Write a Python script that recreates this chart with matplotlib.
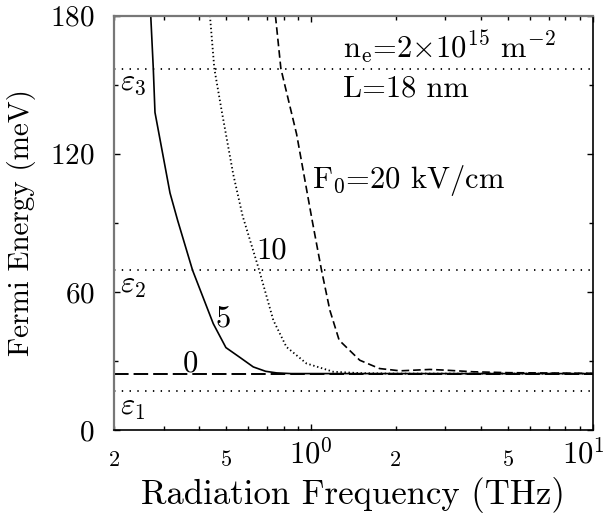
import matplotlib
matplotlib.use("Agg")
import matplotlib.pyplot as plt
import matplotlib.transforms as mtrans
from matplotlib.ticker import FixedLocator, FixedFormatter

plt.rcParams["font.family"] = "cmr10"
plt.rcParams["mathtext.fontset"] = "cm"
plt.rcParams["axes.formatter.use_mathtext"] = True
plt.rcParams["lines.scale_dashes"] = False

# Subband levels (meV)
eps_levels = [17.0, 69.4, 157.0]
eps_labels = [r"$\varepsilon_1$", r"$\varepsilon_2$", r"$\varepsilon_3$"]

# F0 = 0 : flat Fermi level
f0_level = 24.5

# F0 = 5 kV/cm
freq_5 = [0.270, 0.2757, 0.2795, 0.316, 0.3365, 0.380, 0.450, 0.499, 0.560,
          0.624, 0.690, 0.755, 0.85, 1.0, 2.0, 5.0, 10.0]
ef_5 = [180, 157, 138, 103, 91, 69.4, 46.2, 35.8, 31.5,
        27.4, 25.5, 24.8, 24.5, 24.5, 24.5, 24.5, 24.5]

# F0 = 10 kV/cm
freq_10 = [0.438, 0.454, 0.482, 0.530, 0.572, 0.655, 0.735, 0.818, 0.964,
           1.2, 1.5, 2.0, 5.0, 10.0]
ef_10 = [180, 157, 138.7, 111, 93, 69.4, 47.7, 36.1, 28.9,
         25.3, 24.7, 24.5, 24.5, 24.5]

# F0 = 20 kV/cm
freq_20 = [0.748, 0.782, 0.889, 1.01, 1.09, 1.167, 1.259, 1.49, 1.75, 2.07,
           2.64, 3.0, 3.75, 5.0, 10.0]
ef_20 = [180, 157, 128.6, 91, 69.4, 52, 39, 30.3, 26.7, 25.7,
         26.3, 26.0, 25.3, 24.9, 24.6]

x_major = [1, 10]
x_major_labels = [r"$10^0$", r"$10^1$"]
x_minor = [0.2, 0.3, 0.4, 0.5, 0.6, 0.7, 0.8, 0.9, 2, 3, 4, 5, 6, 7, 8, 9]
x_minor_labels = ["2", "", "", "5", "", "", "", "", "2", "", "", "5", "", "", "", ""]
y_ticks = [0, 60, 120, 180]
y_minor = [30, 90, 150]

fig = plt.figure(figsize=(6.13, 5.25), dpi=100)
ax = fig.add_axes([0.186, 0.181, 0.781, 0.789])

xmin, xmax = 0.2, 10

# subband levels
for lev in eps_levels:
    ax.plot([xmin, xmax], [lev, lev], color="black", lw=1.3,
            linestyle=(0, (1.0, 4.6)))

# F0 = 0
ax.plot([xmin, xmax], [f0_level, f0_level], color="black", lw=1.4,
        linestyle=(0, (10.5, 3.6)))
ax.plot(freq_5, ef_5, color="black", lw=1.2, linestyle="-")
ax.plot(freq_10, ef_10, color="black", lw=1.3, linestyle=(0, (1.0, 1.9)))
ax.plot(freq_20, ef_20, color="black", lw=1.2, linestyle=(0, (5.5, 2.8)))

ax.set_xscale("log")
ax.set_xlim(xmin, xmax)
ax.set_ylim(0, 180)

ax.xaxis.set_major_locator(FixedLocator(x_major))
ax.xaxis.set_major_formatter(FixedFormatter(x_major_labels))
ax.xaxis.set_minor_locator(FixedLocator(x_minor))
ax.xaxis.set_minor_formatter(FixedFormatter(x_minor_labels))
ax.set_yticks(y_ticks)
ax.set_yticks(y_minor, minor=True)

ax.tick_params(axis="both", which="both", direction="in", top=True, right=True,
               width=1.0, color="black")
ax.tick_params(axis="both", which="major", length=4)
ax.tick_params(axis="both", which="minor", length=3)
ax.tick_params(axis="y", which="major", labelsize=21, pad=14)
ax.tick_params(axis="x", which="major", labelsize=22, pad=6)
ax.tick_params(axis="x", which="minor", labelsize=16, pad=15)

# keep the 10^1 label inside the canvas
last = ax.xaxis.get_majorticklabels()[-1]
last.set_transform(last.get_transform()
                   + mtrans.ScaledTranslation(-7 / 72, 0, fig.dpi_scale_trans))

for side in ["left", "top"]:
    ax.spines[side].set_color("#777777")
    ax.spines[side].set_linewidth(1.6)
for side in ["right", "bottom"]:
    ax.spines[side].set_color("black")
    ax.spines[side].set_linewidth(1.2)

ax.set_xlabel("Radiation Frequency (THz)", fontsize=25, labelpad=5)
ax.set_ylabel("Fermi Energy (meV)", fontsize=21, labelpad=10)

# level labels
for lab, ytop in zip(eps_labels, [0.0845, 0.379, 0.869]):
    ax.text(0.013, ytop, lab, transform=ax.transAxes, fontsize=22,
            ha="left", va="top")

# curve labels
ax.text(0.144, 0.140, "0", transform=ax.transAxes, fontsize=22, va="baseline")
ax.text(0.211, 0.251, "5", transform=ax.transAxes, fontsize=22, va="baseline")
ax.text(0.298, 0.415, "10", transform=ax.transAxes, fontsize=22, va="baseline")
ax.text(0.413, 0.584, r"F$_0$=20 kV/cm", transform=ax.transAxes, fontsize=22,
        va="baseline")
ax.text(0.478, 0.898, r"n$_\mathrm{e}$=2$\times$10$^{15}$ m$^\mathrm{-2}$",
        transform=ax.transAxes, fontsize=22, va="baseline")
ax.text(0.478, 0.804, "L=18 nm", transform=ax.transAxes, fontsize=22,
        va="baseline")

fig.savefig("out.png", dpi=100)
